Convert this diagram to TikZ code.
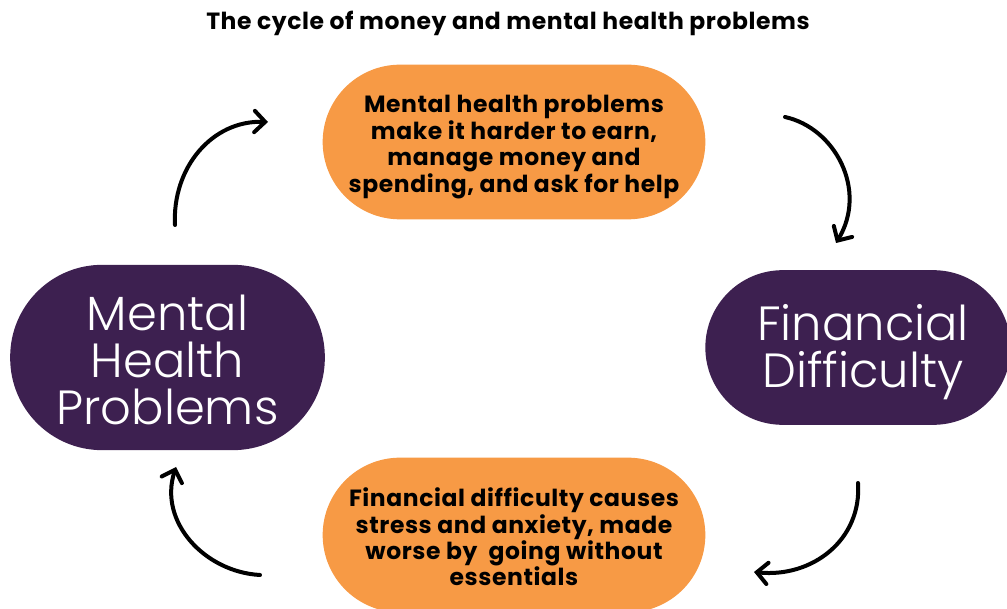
\documentclass[tikz,border=0pt]{standalone}
\usepackage{fontspec}
\setmainfont{Poppins}[LetterSpace=2.5]
\newfontfamily\lightfont{Poppins Light}
\usetikzlibrary{arrows.meta}

\definecolor{cycleorange}{HTML}{F79A45}
\definecolor{cyclepurple}{HTML}{3D2050}

\tikzset{
  pill/.style={fill=#1, draw=none, align=center, inner sep=0pt},
  stepbox/.style={pill=cycleorange, text=black,
    minimum width=287pt, minimum height=116pt, rounded corners=58pt},
  steptext/.style={align=center, text=black,
    font=\fontsize{17.6}{19.8}\selectfont\bfseries},
  statebox/.style={pill=cyclepurple},
  statetext/.style={align=center, text=white,
    font=\lightfont\fontsize{36}{35.3}\selectfont},
  cyclearrow/.style={line width=3pt, line cap=round,
    -{Straight Barb[length=8pt,width=16pt,line cap=round]}}
}

\begin{document}
\begin{tikzpicture}[x=0.75pt,y=-0.75pt]
  \useasboundingbox (0,0) rectangle (1007,609);

  % title
  \node[font=\fontsize{17.6}{19}\selectfont\bfseries] (title) at (508,23)
    {The cycle of money and mental health problems};

  % the two explanatory steps
  \node[stepbox] (top) at (514,142) {};
  \node[steptext] (toptext) at (514,147)
    {Mental health problems\\make it harder to earn,\\manage money and\\spending, and ask for help};
  \node[stepbox] (bottom) at (514,535) {};
  \node[steptext] (bottomtext) at (514,537)
    {Financial difficulty causes\\stress and anxiety, made\\worse by\ \ going without\\essentials};

  % the two states
  \node[statebox, minimum width=236pt, minimum height=139pt, rounded corners=69pt]
    (mhp) at (167.5,357.5) {};
  \node[statetext] (mhptext) at (167.5,360) {Mental\\Health\\Problems};
  \node[statebox, minimum width=229pt, minimum height=116pt, rounded corners=58pt]
    (fin) at (858,347.5) {};
  \node[statetext] (fintext) at (863,352) {Financial\\Difficulty};

  % arrow end points around the cycle
  \coordinate (a1s) at (175,225);  \coordinate (a1e) at (268,122);
  \coordinate (a2s) at (785,117);  \coordinate (a2e) at (836,243);
  \coordinate (a3s) at (858,483);  \coordinate (a3e) at (754,572);
  \coordinate (a4s) at (260,575);  \coordinate (a4e) at (176,467);

  \draw[cyclearrow] (a1s) .. controls (172,168) and (212,120) .. (a1e);
  \draw[cyclearrow] (a2s) .. controls (835,128) and (868,190) .. (a2e);
  \draw[cyclearrow] (a3s) .. controls (862,540) and (812,578) .. (a3e);
  \draw[cyclearrow] (a4s) .. controls (205,572) and (158,522) .. (a4e);
\end{tikzpicture}
\end{document}
